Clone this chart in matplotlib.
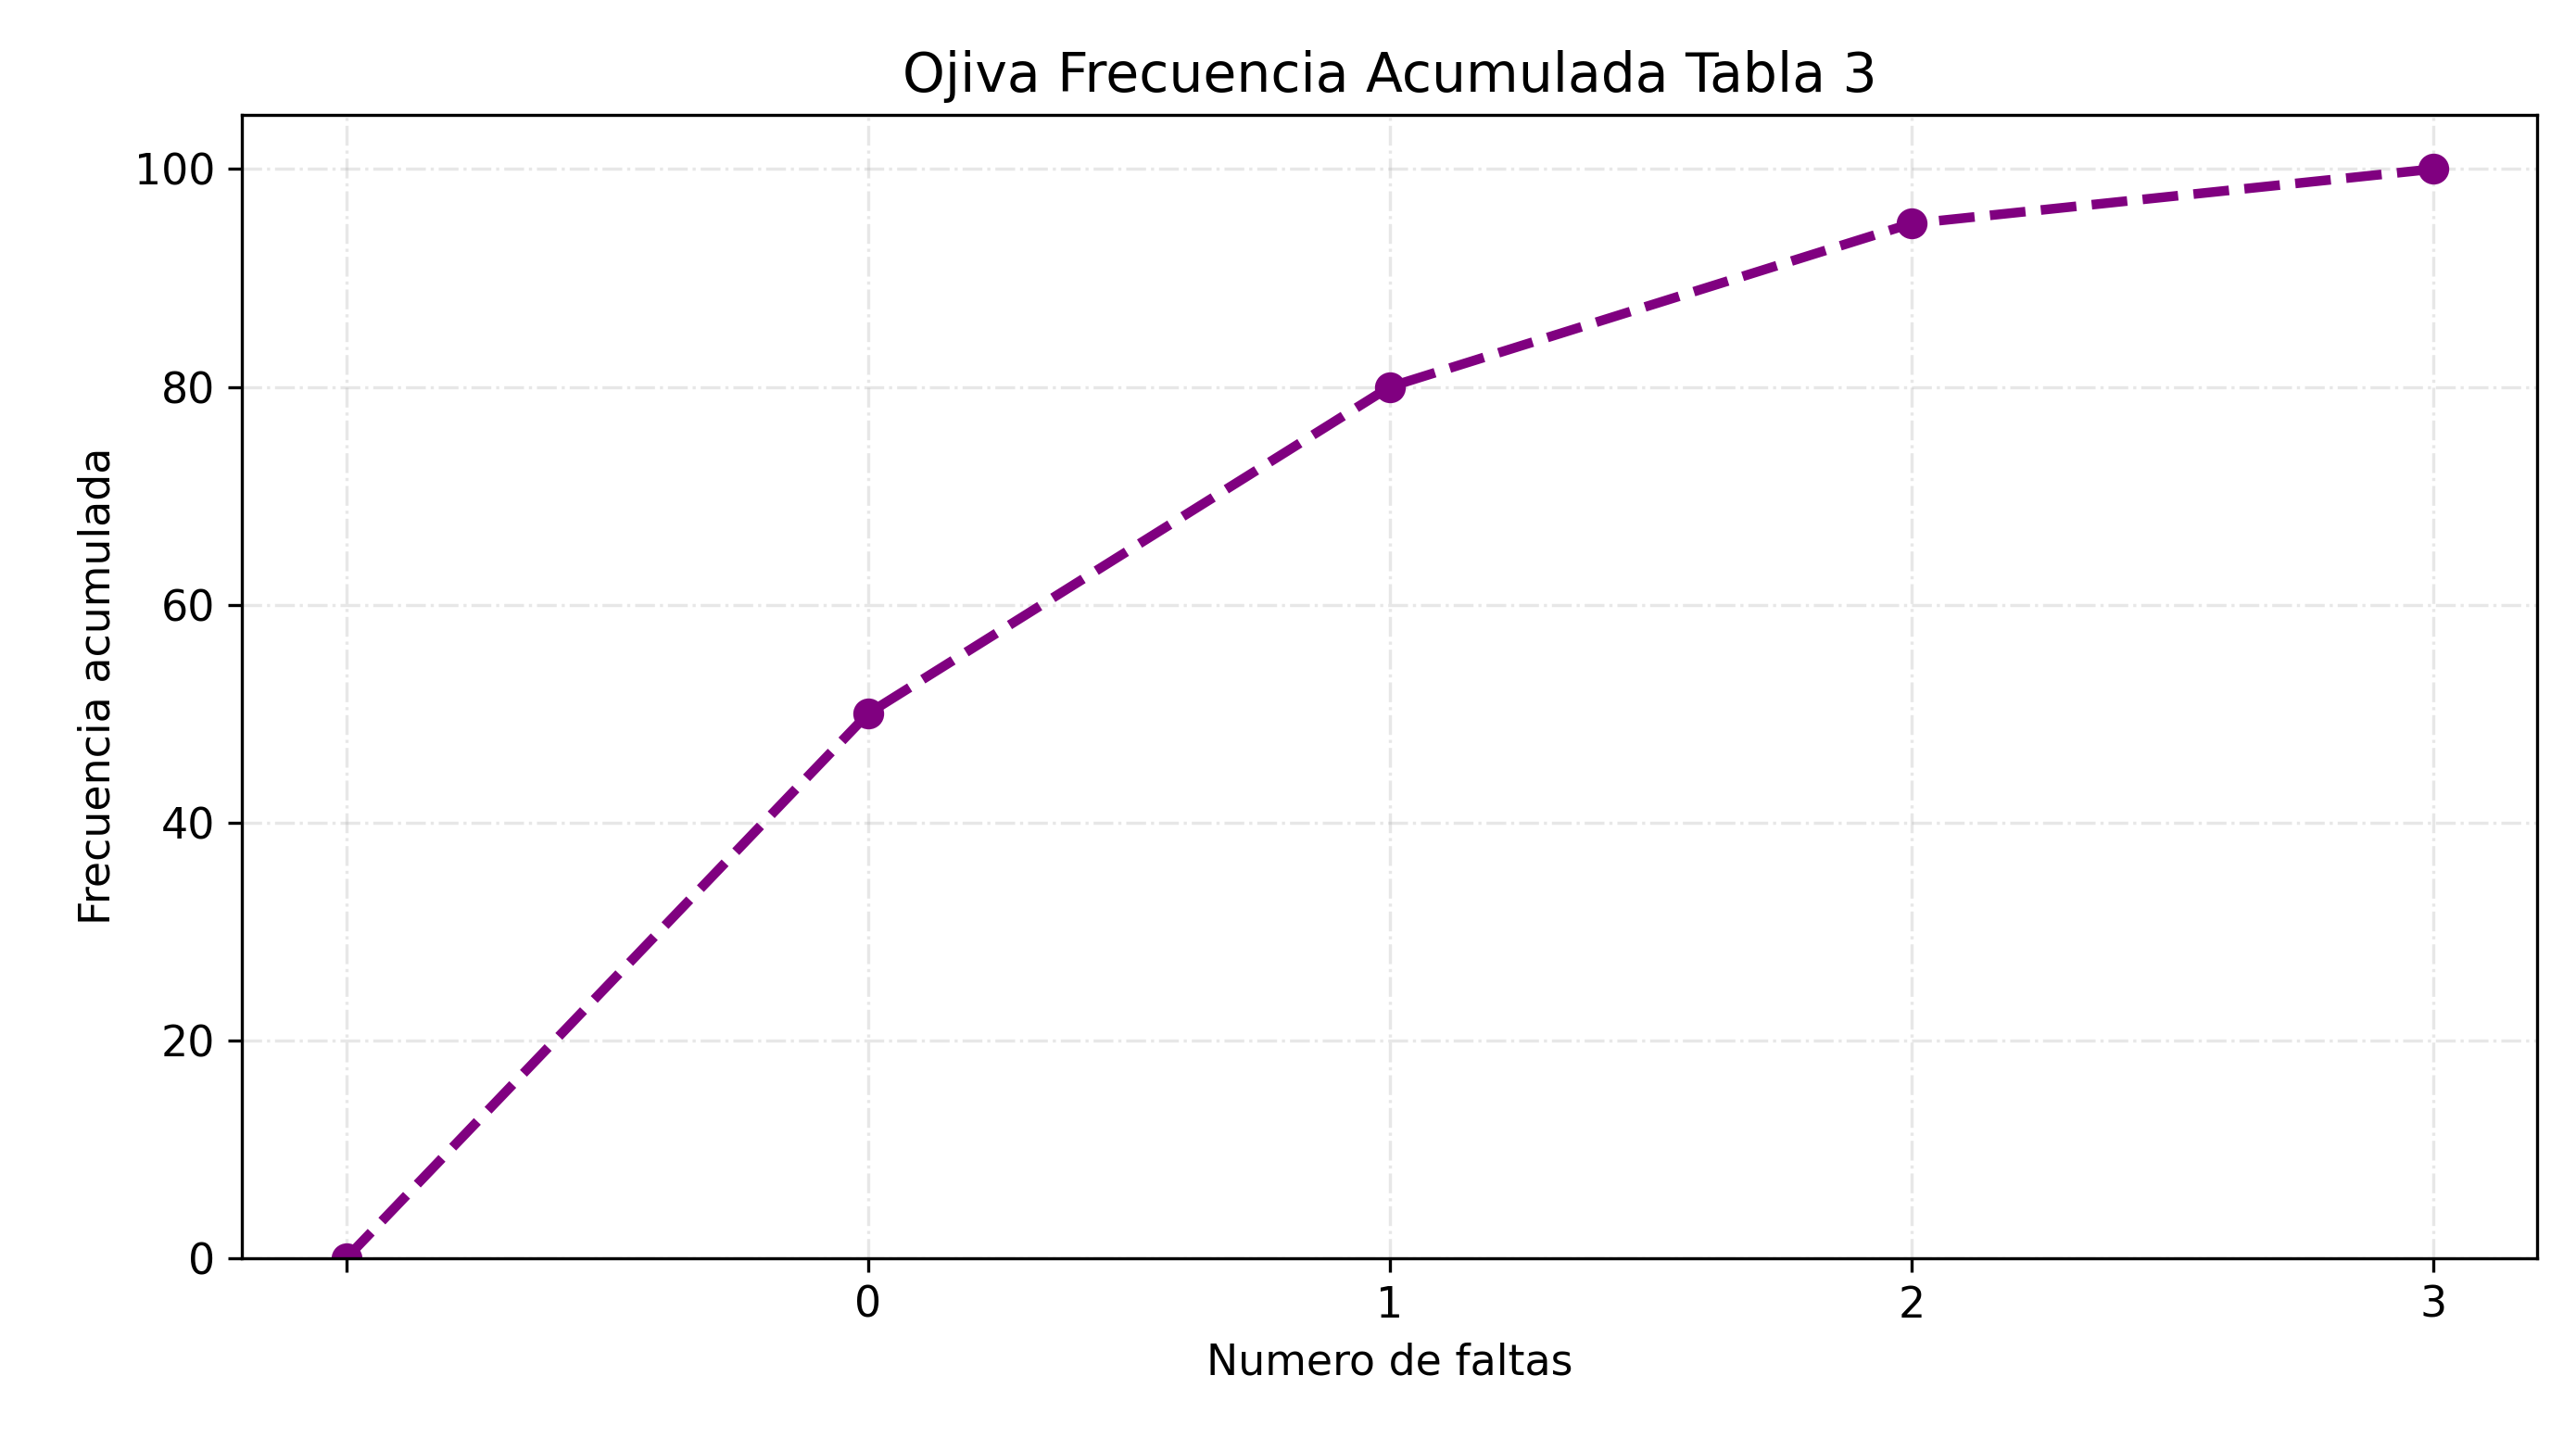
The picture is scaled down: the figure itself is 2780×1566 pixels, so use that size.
import matplotlib
matplotlib.use("Agg")
import matplotlib.pyplot as plt

x_vals = [-1, 0, 1, 2, 3]
cum_freq = [0, 50, 80, 95, 100]
tick_pos = [-1, 0, 1, 2, 3]
tick_labels = ["", "0", "1", "2", "3"]

fig = plt.figure(figsize=(9.267, 5.22), dpi=300)
ax = fig.add_axes([0.094, 0.133, 0.891, 0.788])
ax.plot(x_vals, cum_freq, color="purple", linestyle="--", linewidth=2.5, marker="o", markersize=7)
ax.set_xticks(tick_pos)
ax.set_xticklabels(tick_labels)
ax.set_ylim(0, 105)
ax.set_xlim(-1.2, 3.2)
ax.grid(True, linestyle="-.", alpha=0.3)
ax.set_title("Ojiva Frecuencia Acumulada Tabla 3", fontsize=14)
ax.set_xlabel("Numero de faltas", fontsize=11)
ax.set_ylabel("Frecuencia acumulada", fontsize=11)
ax.tick_params(labelsize=11)
fig.savefig("out.png", dpi=300)
